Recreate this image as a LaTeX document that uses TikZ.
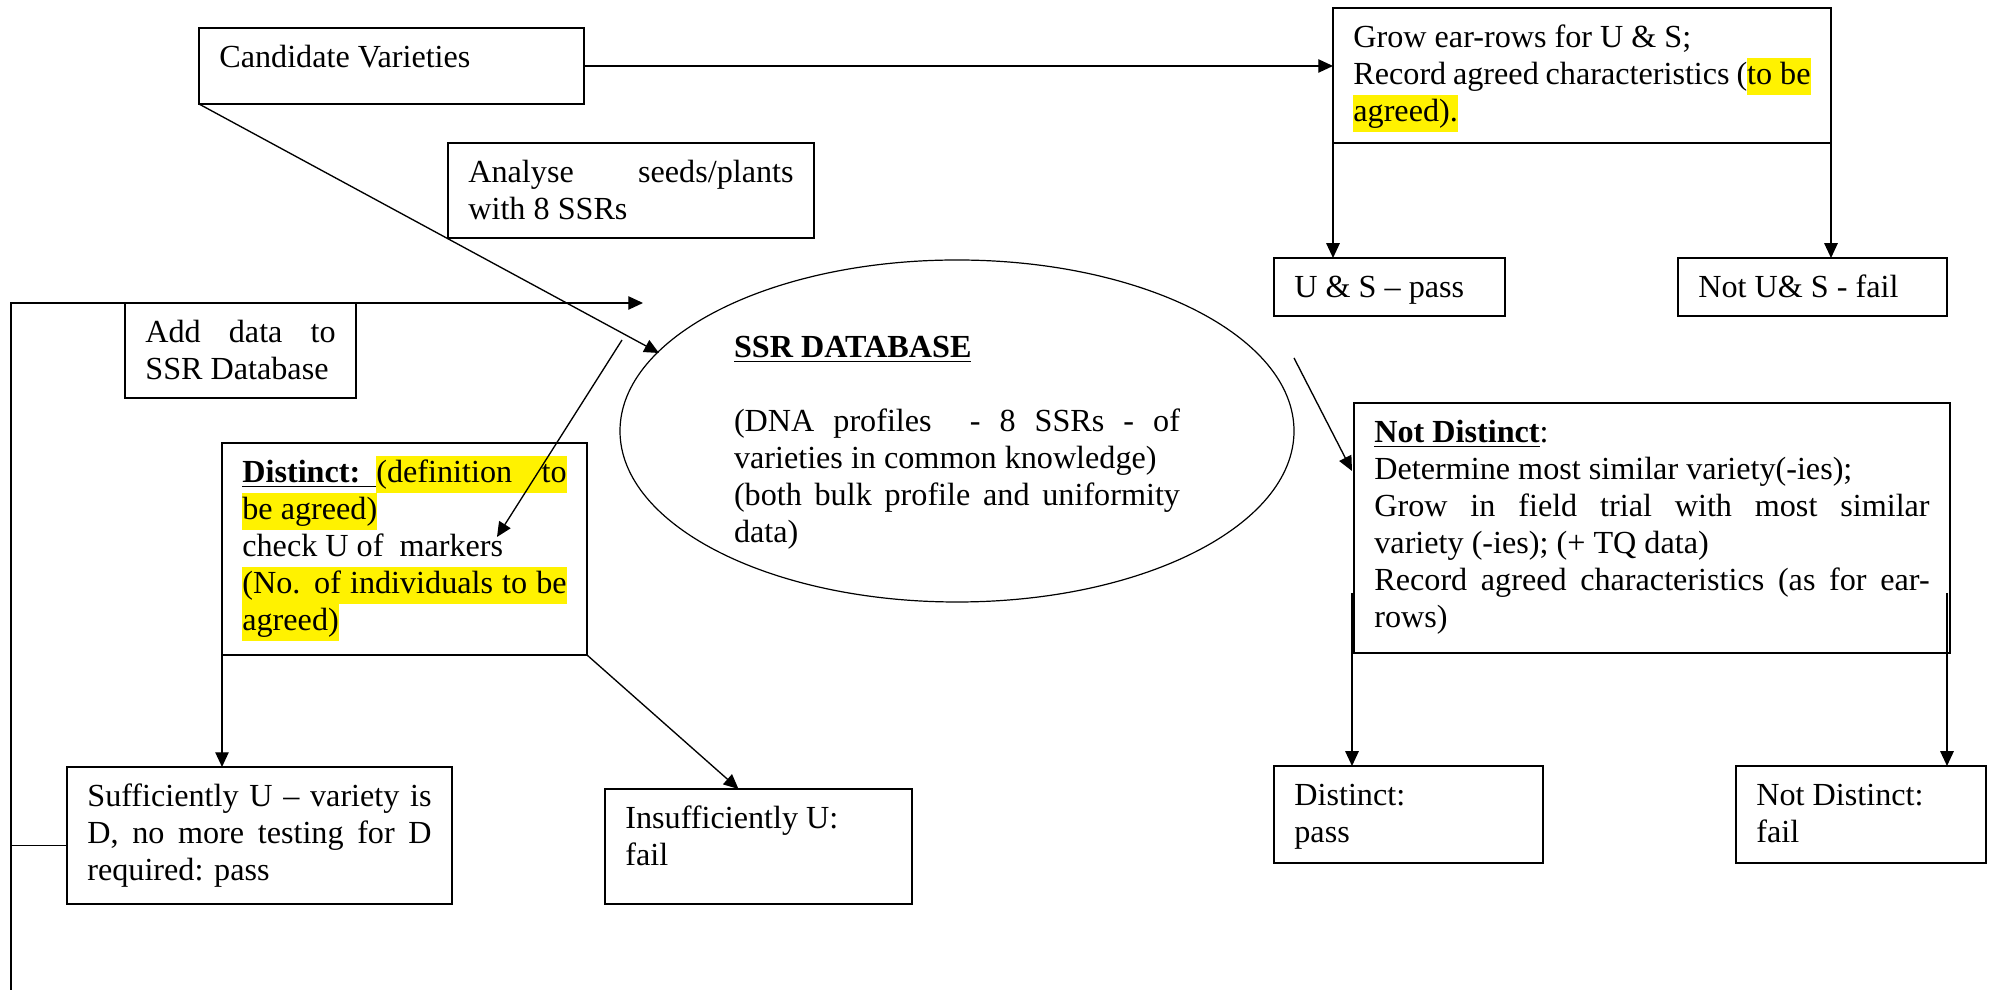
\documentclass[tikz,border=0pt]{standalone}
\usepackage{fontspec}
\setmainfont{Liberation Serif}
\usetikzlibrary{arrows.meta,shapes.geometric}
\newlength{\pxu}
\setlength{\pxu}{0.373pt}
\newcommand{\boxtext}[3]{\parbox[c][\dimexpr#2\pxu-10pt\relax][t]{\dimexpr#1\pxu-15.2pt\relax}{\strut#3}}
\newcommand{\hlt}[1]{{\setlength{\fboxsep}{0pt}\colorbox{yellow}{\strut#1}}}

\begin{document}
\begin{tikzpicture}
[x=0.373pt, y=-0.373pt, font=\fontsize{12}{13.8}\selectfont, line width=0.5pt,
box/.style={draw, line width=0.6pt, anchor=north west, inner xsep=7.6pt, inner ysep=5pt, outer sep=0pt},
link/.style={-{Triangle[length=5.5pt,width=5pt]}}]

\useasboundingbox (0,0) rectangle (1990,992);

\node[box] (cand) at (199,28) {\boxtext{385}{76}{Candidate Varieties}};
\node[box] (grow) at (1333,8) {\boxtext{498}{135}{Grow ear-rows for U \& S;\\
    Record agreed characteristics (\hlt{to be}\linebreak \hlt{agreed).}}};
\node[box] (anal) at (448,143) {\boxtext{366}{95}{Analyse seeds/plants\linebreak with 8 SSRs}};
\node[box] (uspass) at (1274,258) {\boxtext{231}{58}{U \& S – pass}};
\node[box] (usfail) at (1678,258) {\boxtext{269}{58}{Not U\& S - fail}};
\node[box] (adddata) at (125,303) {\boxtext{231}{95}{Add data to\linebreak SSR Database}};
\node[box] (distinct) at (222,443) {\boxtext{365}{212}{\sbox0{\underline{\textbf{Distinct:}\ \ }}\usebox0%
    \hlt{\makebox[\dimexpr\linewidth-\wd0\relax][s]{(definition to}}\\
    \hlt{be agreed)}\\
    check U of\ \ markers\\
    \hlt{\makebox[\linewidth][s]{(No. of individuals to be}}\\
    \hlt{agreed)}}};
\node[box] (suff) at (67,767) {\boxtext{385}{137}{Sufficiently U – variety is\linebreak
    D, no more testing for D\linebreak required: pass}};
\node[box] (insuff) at (605,789) {\boxtext{307}{115}{Insufficiently U:\\ fail}};
\node[box] (notdist) at (1354,403) {\boxtext{596}{250}{\underline{\textbf{Not Distinct}}:\\
    Determine most similar variety(-ies);\\
    Grow in field trial with most similar\linebreak variety (-ies); (+ TQ data)\\
    Record agreed characteristics (as for ear-\linebreak rows)}};
\node[box] (dpass) at (1274,766) {\boxtext{269}{97}{Distinct:\\ pass}};
\node[box] (dfail) at (1736,766) {\boxtext{250}{97}{Not Distinct:\\ fail}};

\node[ellipse, draw, line width=0.45pt, minimum width=674\pxu, minimum height=342\pxu, inner sep=0pt] (ssrdb) at (957,431)
    {\parbox{446\pxu}{\vspace*{18\pxu}\strut\underline{\textbf{SSR DATABASE}}\\[\baselineskip]
    (DNA profiles\ \ - 8 SSRs - of\linebreak varieties in common knowledge)\\
    (both bulk profile and uniformity\linebreak data)}};

\coordinate (dbin) at (659,353);
\coordinate (dbout) at (622,340);
\coordinate (marktip) at (497,537);
\coordinate (dbright) at (1294,358);
\coordinate (ndin) at (1352,471);
\coordinate (ndl) at (1352,593);
\coordinate (ndr) at (1947,593);
\coordinate (loopbot) at (11,990);
\coordinate (looptip) at (643,303);

\draw[link] (cand.east) -- (cand.east -| grow.west);
\draw[link] (cand.south west) -- (dbin);
\draw[link] (grow.south west) -- (grow.south west |- uspass.north);
\draw[link] (grow.south east) -- (grow.south east |- usfail.north);

\draw[link] (loopbot) -- (loopbot |- looptip) -- (looptip);
\draw ([yshift=-10\pxu]suff.west) -- ([yshift=-10\pxu]suff.west -| loopbot);

\draw[link] (dbout) -- (marktip);
\draw[link] (distinct.south west) -- (distinct.south west |- suff.north);
\draw[link] (distinct.south east) -- ([xshift=-20\pxu]insuff.north);

\draw[link] (dbright) -- (ndin);
\draw[link] (ndl) -- (ndl |- dpass.north);
\draw[link] (ndr) -- (ndr |- dfail.north);

\end{tikzpicture}
\end{document}
